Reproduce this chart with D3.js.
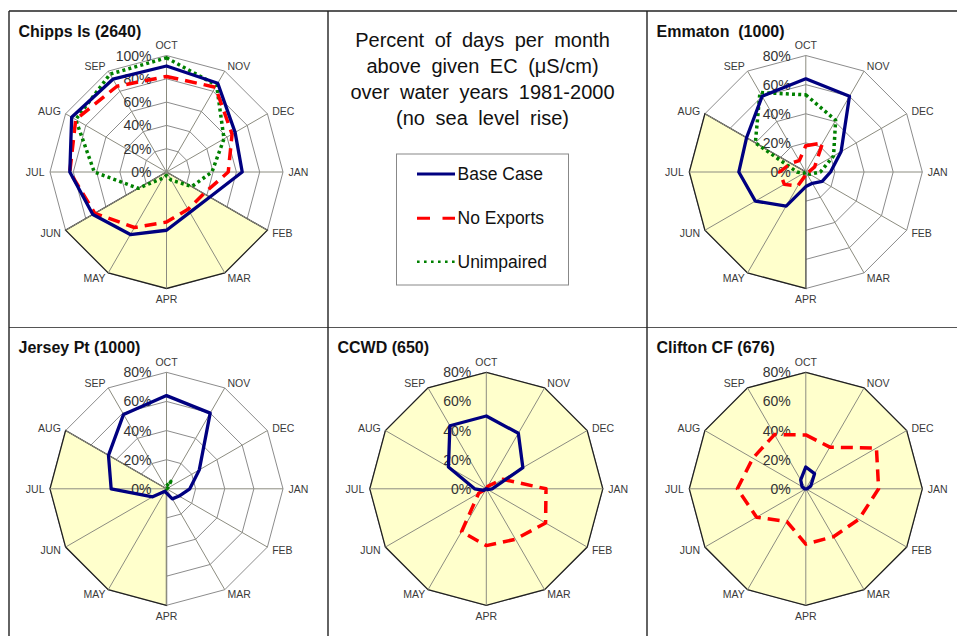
<!DOCTYPE html>
<html><head><meta charset="utf-8">
<script src="https://cdn.jsdelivr.net/npm/d3@7"></script>
<style>
body{margin:0;background:#fff;}
svg{display:block;font-family:Arial,"Liberation Sans",sans-serif;}
</style>
</head><body>
<svg id="chart" width="957" height="636"></svg>
<script>
// ---------- data ----------
const months = ["OCT","NOV","DEC","JAN","FEB","MAR","APR","MAY","JUN","JUL","AUG","SEP"];
const ticks100 = [0,20,40,60,80,100];
const ticks80 = [0,20,40,60,80];

const chippsBase  = [91,88,68,65,43,40,50,62,73,83,94,92];
const chippsNoExp = [82,84,65,53,37,37,43,55,71,83,90,85];
const chippsUnimp = [98,86,57,39,25,8,3,6,28,62,90,97];
const chippsShade = [0,0,0,0,100,100,100,100,100,0,0,0];

const emmatonBase  = [64,60,28,17,13,9,10,27,40,46,47,60];
const emmatonNoExp = [18,23,7,2,1,0,2,11,17,18,12,9];
const emmatonUnimp = [53,41,22,10,3,1,0,0,2,6,40,63];
const emmatonShade = [0,0,0,0,0,0,80,80,80,80,80,0];

const jerseyBase  = [64,60,26,16,10,8,3,2,11,38,46,59];
const jerseyNoExp = [0,0,0,0,0,0,0,0,0,0,0,0];
const jerseyUnimp = [2,6,1,0,0,0,0,0,0,0,0,0];
const jerseyShade = [0,0,0,0,0,0,80,80,80,80,80,0];

const ccwdBase  = [50,44,29,4,1,0,0,0,2,8,30,50];
const ccwdNoExp = [0,2,13,41,47,40,39,34,6,0,0,0];
const ccwdUnimp = [0,0,0,0,0,0,0,0,0,0,0,0];
const ccwdShade = [80,80,80,80,80,80,80,80,80,80,80,80];

const cliftonBase  = [15,12,4,1,0,0,0,0,0,1,3,7];
const cliftonNoExp = [37,33,56,50,42,38,38,26,39,47,42,43];
const cliftonUnimp = [0,0,0,0,0,0,0,0,0,0,0,0];
const cliftonShade = [80,80,80,80,80,80,80,80,80,80,80,80];

const titleLines = ["Percent of days per month","above given EC (\u03BCS/cm)","over water years 1981-2000","(no sea level rise)"];
const legendNames = ["Base Case","No Exports","Unimpaired"];

const panels = [
  {title:"Chipps Is (2640)", col:0,row:0,max:100,ticks:ticks100,base:chippsBase,noExp:chippsNoExp,unimp:chippsUnimp,shade:chippsShade},
  {title:"Emmaton  (1000)", col:2,row:0,max:80,ticks:ticks80,base:emmatonBase,noExp:emmatonNoExp,unimp:emmatonUnimp,shade:emmatonShade},
  {title:"Jersey Pt (1000)", col:0,row:1,max:80,ticks:ticks80,base:jerseyBase,noExp:jerseyNoExp,unimp:jerseyUnimp,shade:jerseyShade},
  {title:"CCWD (650)", col:1,row:1,max:80,ticks:ticks80,base:ccwdBase,noExp:ccwdNoExp,unimp:ccwdUnimp,shade:ccwdShade},
  {title:"Clifton CF (676)", col:2,row:1,max:80,ticks:ticks80,base:cliftonBase,noExp:cliftonNoExp,unimp:cliftonUnimp,shade:cliftonShade}
];

// ---------- layout ----------
const svg = d3.select("#chart");
const colLeft = [9,328,647];
const cxs = [166.5,486.3,805.8];
const cys = [172,488.8];
const titleY = [37,353];
const R = 116.5;

const styles = {
  base:{stroke:"#000080",width:3.3,dash:null,cap:"round"},
  noExp:{stroke:"#ff0000",width:3.5,dash:"12,7",cap:"butt"},
  unimp:{stroke:"#008000",width:3.5,dash:"3,3.2",cap:"butt"}
};

// frame
const frame = svg.append("g");
frame.append("line").attr("x1",9).attr("x2",957).attr("y1",11).attr("y2",11).attr("stroke","#222").attr("stroke-width",1.6);
frame.append("line").attr("x1",9).attr("x2",957).attr("y1",327.5).attr("y2",327.5).attr("stroke","#555").attr("stroke-width",1.2);
[9,328,647].forEach(x=>{
  frame.append("line").attr("x1",x).attr("x2",x).attr("y1",11).attr("y2",636).attr("stroke","#222").attr("stroke-width",1.4);
});

const angle = d3.scaleLinear().domain([0,months.length]).range([0,2*Math.PI]);

panels.forEach(p=>{
  const cx = cxs[p.col], cy = cys[p.row];
  const r = d3.scaleLinear().domain([0,p.max]).range([0,R]);
  const g = svg.append("g").attr("transform",`translate(${cx},${cy})`);
  const radial = d3.lineRadial().angle((d,i)=>angle(i)).radius(d=>r(d)).curve(d3.curveLinearClosed);

  // rings
  p.ticks.filter(t=>t>0).forEach(t=>{
    g.append("path").attr("d",radial(months.map(()=>t)))
      .attr("fill","none").attr("stroke","#8c8c8c").attr("stroke-width",1);
  });
  // shaded region
  g.append("path").attr("d",radial(p.shade))
    .attr("fill","#ffffcc").attr("stroke","#222").attr("stroke-width",1.3).attr("stroke-linejoin","miter");
  // spokes
  months.forEach((m,i)=>{
    const a = angle(i);
    g.append("line").attr("x1",0).attr("y1",0)
      .attr("x2",R*Math.sin(a)).attr("y2",-R*Math.cos(a))
      .attr("stroke","#8c8c80").attr("stroke-width",1);
  });
  // month labels
  months.forEach((m,i)=>{
    const a = angle(i);
    const s = Math.sin(a), c = Math.cos(a);
    const vertical = Math.abs(s)<0.1;
    const d = vertical ? 10.5 : 5.5;
    g.append("text").attr("x",(R+d)*s).attr("y",-(R+d)*c)
      .attr("text-anchor", vertical ? "middle" : (s>0 ? "start":"end"))
      .attr("dominant-baseline","central")
      .attr("font-size","10.5px").attr("fill","#3a3a3a").text(m);
  });
  // tick labels
  p.ticks.forEach(t=>{
    g.append("text").attr("x",-15).attr("y",-r(t))
      .attr("text-anchor","end").attr("dominant-baseline","central")
      .attr("font-size","14px").attr("fill","#333").text(t+"%");
  });
  // series
  [["unimp",p.unimp],["noExp",p.noExp],["base",p.base]].forEach(([k,vals])=>{
    const st = styles[k];
    const path = g.append("path").attr("d",radial(vals))
      .attr("fill","none").attr("stroke",st.stroke).attr("stroke-width",st.width)
      .attr("stroke-linejoin","round").attr("stroke-linecap",st.cap);
    if(st.dash) path.attr("stroke-dasharray",st.dash);
  });
  // title
  svg.append("text").attr("x",colLeft[p.col]+9.5).attr("y",titleY[p.row])
    .attr("font-size","16px").attr("font-weight","bold").attr("fill","#111")
    .style("white-space","pre").text(p.title);
});

// title panel
const tg = svg.append("g");
titleLines.forEach((t,i)=>{
  tg.append("text").attr("x",482.5).attr("y",46.5+i*26.2)
    .attr("text-anchor","middle").attr("font-size","20px").attr("fill","#111")
    .style("word-spacing","5px").text(t);
});
// legend
tg.append("rect").attr("x",396.5).attr("y",154).attr("width",172).attr("height",131)
  .attr("fill","#fff").attr("stroke","#888").attr("stroke-width",1);
const legY = [174,218.3,261.7];
const legStyle = [
  {stroke:"#000080",width:3,dash:null},
  {stroke:"#ff0000",width:3,dash:"13,12.5"},
  {stroke:"#008000",width:2.6,dash:"2.6,4.4"}
];
legendNames.forEach((n,i)=>{
  const l = tg.append("line").attr("x1",417).attr("x2",455).attr("y1",legY[i]).attr("y2",legY[i])
    .attr("stroke",legStyle[i].stroke).attr("stroke-width",legStyle[i].width);
  if(legStyle[i].dash) l.attr("stroke-dasharray",legStyle[i].dash);
  tg.append("text").attr("x",457.5).attr("y",legY[i]).attr("dominant-baseline","central")
    .attr("font-size","17.5px").attr("fill","#111").text(n);
});
</script>
</body></html>
